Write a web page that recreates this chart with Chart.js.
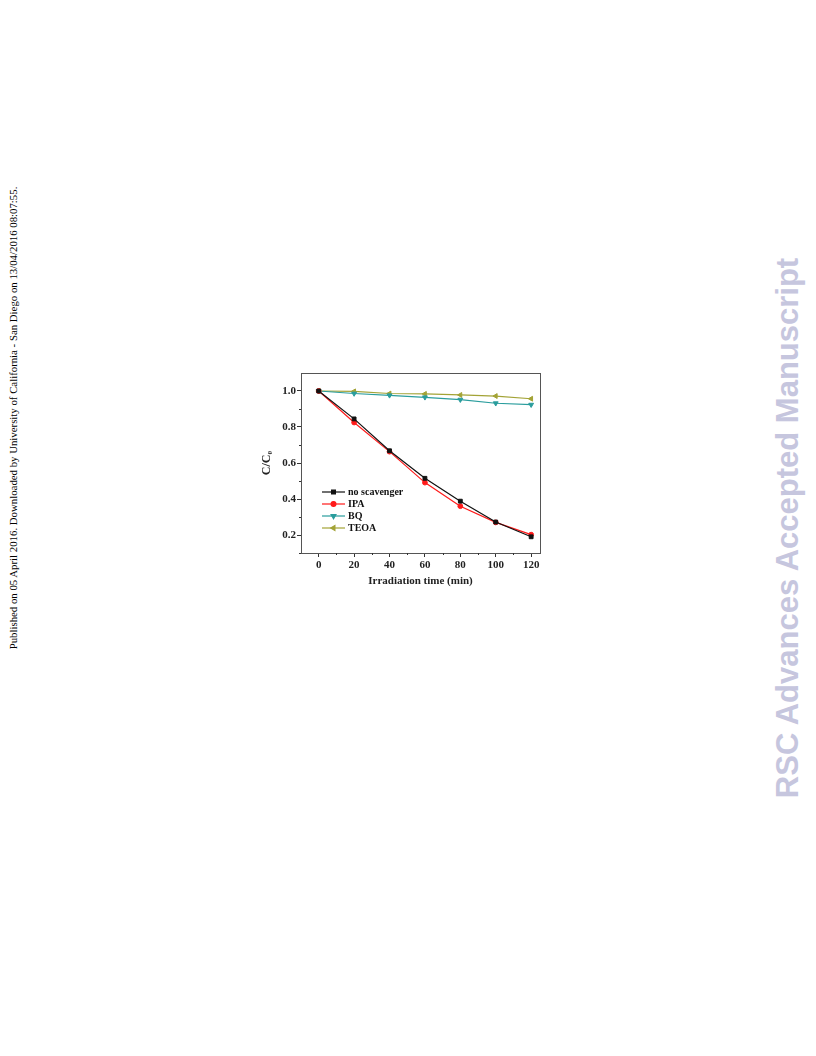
<!DOCTYPE html>
<html>
<head>
<meta charset="utf-8">
<script src="https://cdn.jsdelivr.net/npm/chart.js@4.4.0/dist/chart.umd.min.js"></script>
<style>
body{margin:0;background:#fff;width:816px;height:1056px;position:relative;overflow:hidden}
#wrap{position:absolute;left:250px;top:360px;width:300px;height:240px}
.side{position:absolute;white-space:nowrap;transform:translate(-50%,-50%) rotate(-90deg)}
#pub{left:13px;top:418px;font:10.8px "Liberation Serif";color:#000}
#rsc{left:788px;top:528px;font:bold 31px "Liberation Sans";color:#c6c6de}
</style>
</head>
<body>
<div id="pub" class="side">Published on 05 April 2016. Downloaded by University of California - San Diego on 13/04/2016 08:07:55.</div>
<div id="rsc" class="side">RSC Advances Accepted Manuscript</div>
<div id="wrap"><canvas id="c" width="300" height="240"></canvas></div>
<script>
var times = [0, 20, 40, 60, 80, 100, 120];
var noScavenger = [1.0, 0.845, 0.668, 0.515, 0.388, 0.272, 0.19];
var ipa = [1.0, 0.825, 0.663, 0.491, 0.36, 0.27, 0.202];
var bq = [1.0, 0.986, 0.976, 0.965, 0.952, 0.932, 0.924];
var teoa = [1.0, 0.998, 0.986, 0.984, 0.978, 0.972, 0.957];
var xTicks = [0, 20, 40, 60, 80, 100, 120];
var yTicks = [0.2, 0.4, 0.6, 0.8, 1.0];
var xMinor = [10, 30, 50, 70, 90, 110];
var yMinor = [0.1, 0.3, 0.5, 0.7, 0.9];

function pts(arr) {
  return arr.map(function (v, i) { return {x: times[i], y: v}; });
}
function ds(label, arr, color, style, rot, r) {
  return {
    label: label, data: pts(arr),
    borderColor: color, backgroundColor: color,
    pointBackgroundColor: color, pointBorderColor: color,
    borderWidth: 1.2, pointStyle: style, pointRotation: rot,
    pointRadius: r, pointBorderWidth: 1, tension: 0
  };
}

var serif = 'Liberation Serif';

// frame + minor ticks
var framePlugin = {
  id: 'frame',
  afterDraw: function (chart) {
    var ctx = chart.ctx, a = chart.chartArea;
    var xs = chart.scales.x, ys = chart.scales.y;
    ctx.save();
    ctx.strokeStyle = '#555';
    ctx.lineWidth = 1;
    ctx.strokeRect(a.left + 0.5, a.top + 0.5, a.right - a.left, a.bottom - a.top);
    ctx.strokeStyle = '#333';
    ctx.beginPath();
    xMinor.forEach(function (v) {
      var p = Math.round(xs.getPixelForValue(v)) + 0.5;
      ctx.moveTo(p, a.bottom); ctx.lineTo(p, a.bottom + 2);
    });
    yMinor.forEach(function (v) {
      var p = Math.round(ys.getPixelForValue(v)) + 0.5;
      ctx.moveTo(a.left, p); ctx.lineTo(a.left - 2, p);
    });
    ctx.stroke();
    ctx.restore();
  }
};

// legend inside the plot, lower left
var legendPlugin = {
  id: 'inLegend',
  afterDraw: function (chart) {
    var ctx = chart.ctx, a = chart.chartArea;
    ctx.save();
    ctx.font = 'bold 10px "' + serif + '"';
    ctx.textBaseline = 'middle';
    chart.data.datasets.forEach(function (d, i) {
      var x0 = a.left + 21, y = a.top + 119 + i * 12;
      ctx.strokeStyle = d.borderColor;
      ctx.fillStyle = d.borderColor;
      ctx.lineWidth = 1.2;
      ctx.beginPath(); ctx.moveTo(x0, y); ctx.lineTo(x0 + 23, y); ctx.stroke();
      Chart.helpers.drawPoint(ctx, {pointStyle: d.pointStyle, rotation: d.pointRotation, radius: d.pointRadius, borderWidth: 1}, x0 + 11.5, y);
      ctx.fillStyle = '#111';
      ctx.fillText(d.label, x0 + 26, y);
    });
    ctx.restore();
  }
};

new Chart(document.getElementById('c'), {
  type: 'line',
  data: {
    datasets: [
      ds('no scavenger', noScavenger, '#111111', 'rect', 0, 2.7),
      ds('IPA', ipa, '#ff1a1a', 'circle', 0, 2.4),
      ds('BQ', bq, '#2a9d9d', 'triangle', 180, 2.8),
      ds('TEOA', teoa, '#a3a336', 'triangle', 270, 2.8)
    ]
  },
  options: {
    responsive: false,
    animation: false,
    clip: false,
    layout: {padding: {top: 13, right: 10, left: 0, bottom: 0}},
    plugins: {legend: {display: false}, tooltip: {enabled: false}},
    scales: {
      x: {
        type: 'linear', min: -10, max: 125,
        afterBuildTicks: function (s) { s.ticks = xTicks.map(function (v) { return {value: v}; }); },
        afterFit: function (s) { s.height = 47; },
        grid: {drawOnChartArea: false, tickLength: 4, color: '#333'},
        border: {display: false},
        ticks: {font: {family: serif, weight: 'bold', size: 11}, color: '#222', padding: 2, maxRotation: 0},
        title: {display: true, text: 'Irradiation time (min)', color: '#222',
          font: {family: serif, weight: 'bold', size: 11}, padding: {top: 0, bottom: 12}}
      },
      y: {
        min: 0.1, max: 1.1,
        afterBuildTicks: function (s) { s.ticks = yTicks.map(function (v) { return {value: v}; }); },
        afterFit: function (s) { s.width = 51; },
        grid: {drawOnChartArea: false, tickLength: 4, color: '#333'},
        border: {display: false},
        ticks: {font: {family: serif, weight: 'bold', size: 11}, color: '#222', padding: 1,
          callback: function (v) { return Number(v).toFixed(1); }},
        title: {display: true, text: 'C/C\u2080', color: '#222',
          font: {family: serif, weight: 'bold', size: 12}, padding: {top: 10, bottom: 0}}
      }
    }
  },
  plugins: [framePlugin, legendPlugin]
});
</script>
</body>
</html>
